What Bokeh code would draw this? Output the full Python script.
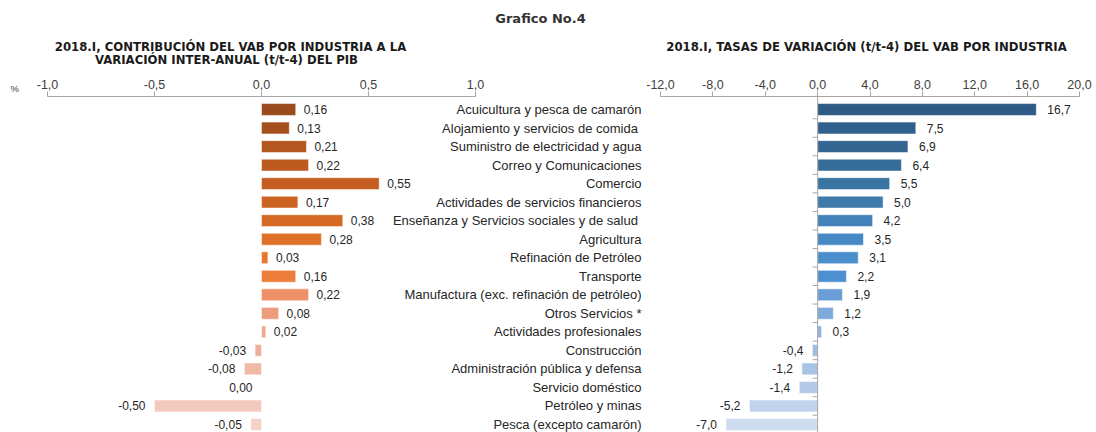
from bokeh.plotting import figure
from bokeh.models import Range1d, FixedTicker, CustomJSTickFormatter, ColumnDataSource
from bokeh.layouts import row
from bokeh.embed import file_html
from bokeh.resources import INLINE
from bokeh.core.properties import value

categories = [
    "Acuicultura y pesca de camarón",
    "Alojamiento y servicios de comida ",
    "Suministro de electricidad y agua",
    "Correo y Comunicaciones",
    "Comercio",
    "Actividades de servicios financieros",
    "Enseñanza  y Servicios sociales y de salud",
    "Agricultura",
    "Refinación de Petróleo",
    "Transporte",
    "Manufactura (exc. refinación de petróleo)",
    "Otros Servicios *",
    "Actividades profesionales",
    "Construcción",
    "Administración pública y defensa",
    "Servicio doméstico",
    "Petróleo y minas",
    "Pesca (excepto camarón)",
]
contribucion = [0.16, 0.13, 0.21, 0.22, 0.55, 0.17, 0.38, 0.28, 0.03, 0.16, 0.22, 0.08, 0.02, -0.03, -0.08, 0.00, -0.50, -0.05]
tasas = [16.7, 7.5, 6.9, 6.4, 5.5, 5.0, 4.2, 3.5, 3.1, 2.2, 1.9, 1.2, 0.3, -0.4, -1.2, -1.4, -5.2, -7.0]
left_ticks = [-1.0, -0.5, 0.0, 0.5, 1.0]
right_ticks = [-12.0, -8.0, -4.0, 0.0, 4.0, 8.0, 12.0, 16.0, 20.0]

colors_left = ["#9A4A1C", "#A44F1E", "#B4561F", "#BC5A20", "#C45E20", "#CC6322", "#D66A24", "#DE7028", "#E8782E",
               "#EC7E3A", "#EE9068", "#EE9C7E", "#F0A690", "#EFAE9C", "#F0B8A6", "#F2C2B2", "#F3CABE", "#F4D2C8"]
colors_right = ["#2E5A86", "#30608E", "#336692", "#366C98", "#3A74A2", "#3E7AAA", "#4282B8", "#4688C4", "#4A8ECE",
                "#4C90D2", "#6A9ED8", "#7EAADC", "#8EB4E0", "#A0BEE2", "#A8C4E4", "#B2CAE6", "#C0D2EC", "#CEDCF0"]

FONT = "Liberation Sans"
TFONT = "DejaVu Sans"
H = 432
AX = 96                               # pixel row of the value axes
n = len(categories)
idx = list(range(n))
k = (424 - 109) / (n - 1)             # px per category row
a = (109 - AX) / k
y_axis = -a                           # data y of axis line
y_top = y_axis - AX / k               # data y at canvas top
y_bot = y_top + H / k                 # data y at canvas bottom
axis_col = "#A6A6A6"
txt_col = "#262626"


def py(pix):
    return y_top + pix / k


def fmt(v, d):
    return f"{v:.{d}f}".replace(".", ",")


def base_fig(w, xs, xe, ticks):
    p = figure(width=w, height=H, output_backend="svg", toolbar_location=None,
               x_range=Range1d(xs, xe), y_range=Range1d(y_bot, y_top),
               x_axis_location="above", y_axis_type=None,
               min_border_left=0, min_border_right=0, min_border_top=0, min_border_bottom=0)
    p.outline_line_color = None
    p.xgrid.visible = False
    p.ygrid.visible = False
    ax = p.xaxis[0]
    ax.fixed_location = y_axis
    ax.ticker = FixedTicker(ticks=ticks)
    ax.bounds = (ticks[0], ticks[-1])
    ax.axis_line_color = axis_col
    ax.major_tick_line_color = axis_col
    ax.minor_tick_line_color = None
    ax.major_tick_out = 5
    ax.major_tick_in = 0
    ax.major_label_standoff = 3
    ax.major_label_text_font = FONT
    ax.major_label_text_font_size = "12.5px"
    ax.major_label_text_color = "#404040"
    ax.formatter = CustomJSTickFormatter(code="return tick.toFixed(1).replace('.', ',');")
    return p


def title_text(p, xs, sc, left, cx, cy, text, size, font=TFONT, bold=True, color="#1a1a1a", align="center"):
    p.text(x=[xs + (cx - left) / sc], y=[py(cy)], text=[text], text_align=align, text_baseline="middle",
           text_font=value(font), text_font_size=size, text_font_style="bold" if bold else "normal",
           text_color=color)

# ---------- left panel ----------
WL = 644
sl = 214.0
xs_l = -1 - 47 / sl
xe_l = xs_l + WL / sl
pl = base_fig(WL, xs_l, xe_l, left_ticks)

src_l = ColumnDataSource(dict(
    y=idx, v=contribucion, c=colors_left,
    lab=[fmt(v, 2) for v in contribucion],
    align=["left" if v > 0 else "right" for v in contribucion],
    off=[8 if v > 0 else -9 for v in contribucion],
    cat=categories,
    cx=[xe_l - 3 / sl] * n,
))
pl.hbar(y="y", left=0, right="v", height=0.64, fill_color="c", line_color="white", line_alpha=0.5, source=src_l)
pl.text(x="v", y="y", text="lab", x_offset="off", text_align="align", text_baseline="middle",
        text_font=value(FONT), text_font_size="12px", text_color=txt_col, source=src_l)
pl.text(x="cx", y="y", text="cat", text_align="right", text_baseline="middle",
        text_font=value(FONT), text_font_size="13px", text_color=txt_col, source=src_l)

title_text(pl, xs_l, sl, 0, 540, 18, "Grafico No.4", "13px", color="#333333")
title_text(pl, xs_l, sl, 0, 230, 46, "2018.I, CONTRIBUCIÓN DEL VAB POR INDUSTRIA A LA", "11.7px")
title_text(pl, xs_l, sl, 0, 228, 59, "VARIACIÓN  INTER-ANUAL (t/t-4) DEL PIB", "11.7px")
title_text(pl, xs_l, sl, 0, 10, 88, "%", "9.5px", font=FONT, bold=False, color="#404040", align="left")

# ---------- right panel ----------
WR = 1096 - WL
sr = 419 / 32.0
xs_r = -12 - 16 / sr
xe_r = xs_r + WR / sr
pr = base_fig(WR, xs_r, xe_r, right_ticks)

src_r = ColumnDataSource(dict(
    y=idx, v=tasas, c=colors_right,
    lab=[fmt(v, 1) for v in tasas],
    align=["left" if v > 0 else "right" for v in tasas],
    off=[11 if v > 0 else -9 for v in tasas],
))
pr.hbar(y="y", left=0, right="v", height=0.64, fill_color="c", line_color="white", line_alpha=0.5, source=src_r)
pr.text(x="v", y="y", text="lab", x_offset="off", text_align="align", text_baseline="middle",
        text_font=value(FONT), text_font_size="12px", text_color=txt_col, source=src_r)
# category axis line at zero with small ticks between categories
pr.segment(x0=[0], x1=[0], y0=[y_axis], y1=[y_bot], line_color=axis_col, line_width=1)
bnd = [i + 0.5 for i in range(n - 1)]
pr.segment(x0=[-5 / sr] * len(bnd), x1=[0] * len(bnd), y0=bnd, y1=bnd, line_color=axis_col, line_width=1)
title_text(pr, xs_r, sr, WL, 866, 46, "2018.I, TASAS DE VARIACIÓN (t/t-4) DEL VAB POR INDUSTRIA", "11.7px")

layout = row(pl, pr, spacing=0)
open("out.html", "w").write(file_html(layout, INLINE))
